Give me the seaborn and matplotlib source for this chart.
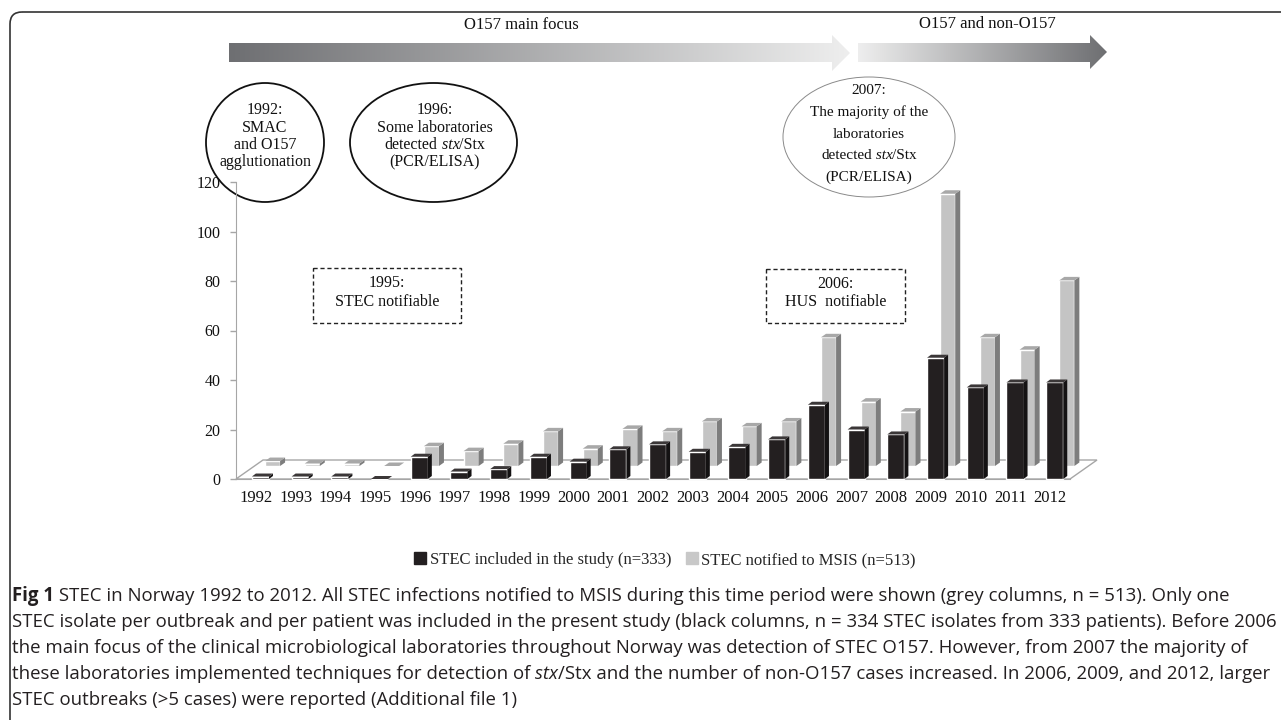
import numpy as np
import pandas as pd
import matplotlib
matplotlib.use("Agg")
import matplotlib.pyplot as plt
from matplotlib.patches import Ellipse, Rectangle, Polygon, FancyBboxPatch
from matplotlib.colors import LinearSegmentedColormap
from matplotlib.lines import Line2D
import seaborn as sns

# data
years = ["1992", "1993", "1994", "1995", "1996", "1997", "1998", "1999", "2000", "2001", "2002",
         "2003", "2004", "2005", "2006", "2007", "2008", "2009", "2010", "2011", "2012"]
included = [1, 1, 1, 0, 9, 3, 4, 9, 7, 12, 14, 11, 13, 16, 30, 20, 18, 49, 37, 39, 39]
notified = [2, 1, 1, 0, 8, 6, 9, 14, 7, 15, 14, 18, 16, 18, 52, 26, 22, 110, 52, 47, 75]
y_ticks = [0, 20, 40, 60, 80, 100, 120]
legend_labels = ["STEC included in the study (n=333)", "STEC notified to MSIS (n=513)"]

df = pd.DataFrame({"year": years, "included": included, "notified": notified})

sns.set_style("white")
plt.rcParams["font.family"] = ["Liberation Serif", "DejaVu Serif"]

W, H = 1281, 720
fig = plt.figure(figsize=(W / 100, H / 100), dpi=100)
renderer = fig.canvas.get_renderer()

# overlay in pixel coordinates for the annotations
ov = fig.add_axes([0, 0, 1, 1])
ov.set_xlim(0, W)
ov.set_ylim(H, 0)
ov.axis("off")

# main chart
ax = fig.add_axes([236 / W, 1 - 479 / H, (1070 - 236) / W, (479 - 182) / H])
ax.patch.set_alpha(0)
px_x = (1070 - 236) / 21
px_y = (479 - 182) / 120

sns.barplot(data=df, x="year", y="notified", color="#c4c4c4", width=0.38, saturation=1,
            errorbar=None, ax=ax, zorder=2)
grey_bars = list(ax.patches)
sns.barplot(data=df, x="year", y="included", color="#231f20", width=0.43, saturation=1,
            errorbar=None, ax=ax, zorder=3)
black_bars = list(ax.patches[len(grey_bars):])

ax.set_xlim(-0.5, 20.5)
ax.set_ylim(0, 120)


def faces(p, dx_px, dy_px, side_c, top_c, z):
    x0 = p.get_x()
    x1 = x0 + p.get_width()
    y0 = p.get_y()
    y1 = y0 + p.get_height()
    dx = dx_px / px_x
    dy = dy_px / px_y
    ax.add_patch(Polygon([(x1, y0), (x1 + dx, y0 + dy), (x1 + dx, y1 + dy), (x1, y1)],
                         fc=side_c, ec="none", zorder=z, clip_on=False))
    ax.add_patch(Polygon([(x0, y1), (x1, y1), (x1 + dx, y1 + dy), (x0 + dx, y1 + dy)],
                         fc=top_c, ec="none", zorder=z, clip_on=False))


# push grey columns to the back row, black ones to the front
for p in grey_bars:
    p.set_x(p.get_x() + 0.42)
    p.set_y(13 / px_y)
    p.set_clip_on(False)
    faces(p, 5, 3.5, "#7d7d7d", "#a8a8a8", 2)
for p in black_bars:
    p.set_x(p.get_x() + 0.115)
    p.set_clip_on(False)
    faces(p, 4, 3, "#141213", "#3b3738", 3)

# floor of the 3D chart
fdx = 27 / px_x
fdy = 19 / px_y
ax.add_patch(Polygon([(-0.5, 0), (-0.5 + fdx, fdy), (20.5 + fdx, fdy), (20.5, 0)],
                     fc="white", ec="#a6a6a6", lw=1, zorder=1, clip_on=False))

sns.despine(ax=ax)
ax.spines["left"].set_color("#a6a6a6")
ax.spines["bottom"].set_color("#a6a6a6")
ax.set_xlabel("")
ax.set_ylabel("")
ax.set_xticks(range(len(years)))
ax.set_xticklabels(years)
ax.set_xticks(np.arange(-0.5, 21, 1), minor=True)
ax.tick_params(axis="x", which="major", length=0, pad=8, labelsize=12, labelcolor="#111")
ax.tick_params(axis="x", which="minor", length=5, width=1, color="#a6a6a6")
ax.set_yticks(y_ticks)
ax.tick_params(axis="y", length=4, width=1, color="#a6a6a6", pad=7, labelsize=11.5,
               labelcolor="#111", left=True)

# frame around the whole figure
ov.add_patch(FancyBboxPatch((10, 12), 1400, 800, boxstyle="round,pad=0,rounding_size=12",
                            fill=False, ec="#333333", lw=1.2))

# gradient arrows on top
arrow1 = [(229, 43), (832, 43), (832, 35), (850, 53), (832, 71), (832, 62), (229, 62)]
arrow2 = [(858, 43), (1090, 43), (1090, 35), (1107, 52), (1090, 69), (1090, 62), (858, 62)]
grad = np.linspace(0, 1, 256).reshape(1, -1)
for pts, c0, c1 in [(arrow1, "#6e6f72", "#eeeeee"), (arrow2, "#eeeeee", "#6e6f72")]:
    poly = Polygon(pts, fc="none", ec="none")
    ov.add_patch(poly)
    xs = [q[0] for q in pts]
    ys = [q[1] for q in pts]
    cmap = LinearSegmentedColormap.from_list("g", [c0, c1])
    im = ov.imshow(grad, cmap=cmap, aspect="auto",
                   extent=(min(xs), max(xs), max(ys), min(ys)), zorder=1)
    im.set_clip_path(poly)
ov.set_xlim(0, W)
ov.set_ylim(H, 0)

ov.text(521, 25, "O157 main focus", ha="center", va="center", fontsize=12, color="#111")
ov.text(987, 24, "O157 and non-O157", ha="center", va="center", fontsize=12, color="#111")


def rich(x, y, pieces, size, family=None, ha="left", color="#111"):
    arts = []
    for s, st in pieces:
        t = ov.text(0, y, s, fontsize=size, va="center", color=color,
                    fontweight="bold" if st == "bold" else "normal",
                    fontstyle="italic" if st == "italic" else "normal")
        if family:
            t.set_family(family)
        arts.append(t)
    widths = [t.get_window_extent(renderer).width for t in arts]
    x0 = x - sum(widths) / 2 if ha == "center" else x
    for t, w in zip(arts, widths):
        t.set_x(x0)
        x0 += w


# ellipses with method notes
ov.add_patch(Ellipse((265, 142.5), 118, 119, fill=False, ec="#111", lw=1.3))
ov.add_patch(Ellipse((433.5, 142.5), 167, 119, fill=False, ec="#111", lw=1.3))
ov.add_patch(Ellipse((869, 137), 172, 120, fill=False, ec="#8a8a8a", lw=0.7))

for yy, line in zip([110, 127.5, 145, 162.5], ["1992:", "SMAC", "and O157", "agglutionation"]):
    rich(265, yy, [(line, "normal")], 11.5, ha="center")
rich(435, 110, [("1996:", "normal")], 11.5, ha="center")
rich(435, 127.5, [("Some laboratories", "normal")], 11.5, ha="center")
rich(435, 145, [("detected", "normal"), (" stx", "italic"), ("/Stx", "normal")], 11.5, ha="center")
rich(435, 162.5, [("(PCR/ELISA)", "normal")], 11.5, ha="center")

rich(869, 91, [("2007:", "normal")], 11, ha="center")
rich(869, 112.5, [("The majority of the", "normal")], 11, ha="center")
rich(869, 134, [("laboratories", "normal")], 11, ha="center")
rich(869, 155.5, [("detected", "normal"), (" stx", "italic"), ("/Stx", "normal")], 11, ha="center")
rich(869, 177, [("(PCR/ELISA)", "normal")], 11, ha="center")

# dashed boxes
ov.add_patch(Rectangle((313, 268), 148, 55, fill=False, ec="#222", lw=1, ls=(0, (3, 2))))
ov.add_patch(Rectangle((766, 269), 139, 54, fill=False, ec="#222", lw=1, ls=(0, (3, 2))))
ov.text(387, 283, "1995:", ha="center", va="center", fontsize=11.5, color="#111")
ov.text(387, 302, "STEC notifiable", ha="center", va="center", fontsize=11.5, color="#111")
ov.text(835.5, 284, "2006:", ha="center", va="center", fontsize=11.5, color="#111")
ov.text(835.5, 302, "HUS  notifiable", ha="center", va="center", fontsize=11.5, color="#111")

# legend
handles = [Line2D([], [], marker="s", ls="", color="#231f20", markersize=8),
           Line2D([], [], marker="s", ls="", color="#c8c8c8", markersize=8)]
fig.legend(handles=handles, labels=legend_labels, loc="center", ncol=2, frameon=False,
           bbox_to_anchor=(665 / W, 1 - 560 / H), fontsize=12, handlelength=0.7,
           handletextpad=0.2, columnspacing=0.9)

# caption
cap_font = ["Open Sans", "DejaVu Sans"]
caption = [
    [("Fig 1", "bold"), (" STEC in Norway 1992 to 2012. All STEC infections notified to MSIS during this "
                         "time period were shown (grey columns, n = 513). Only one", "normal")],
    [("STEC isolate per outbreak and per patient was included in the present study (black columns, "
      "n = 334 STEC isolates from 333 patients). Before 2006", "normal")],
    [("the main focus of the clinical microbiological laboratories throughout Norway was detection "
      "of STEC O157. However, from 2007 the majority of", "normal")],
    [("these laboratories implemented techniques for detection of", "normal"), (" stx", "italic"),
     ("/Stx and the number of non-O157 cases increased. In 2006, 2009, and 2012, larger", "normal")],
    [("STEC outbreaks (>5 cases) were reported (Additional file 1)", "normal")],
]
probe = ov.text(0, 0, caption[1][0][0], fontsize=11, family=cap_font)
cap_size = 11 * 1265 / probe.get_window_extent(renderer).width
probe.remove()
for yy, pieces in zip([596, 622, 648, 674, 700], caption):
    rich(12, yy, pieces, cap_size, family=cap_font, color="#231f20")

fig.savefig("out.png", dpi=100)
